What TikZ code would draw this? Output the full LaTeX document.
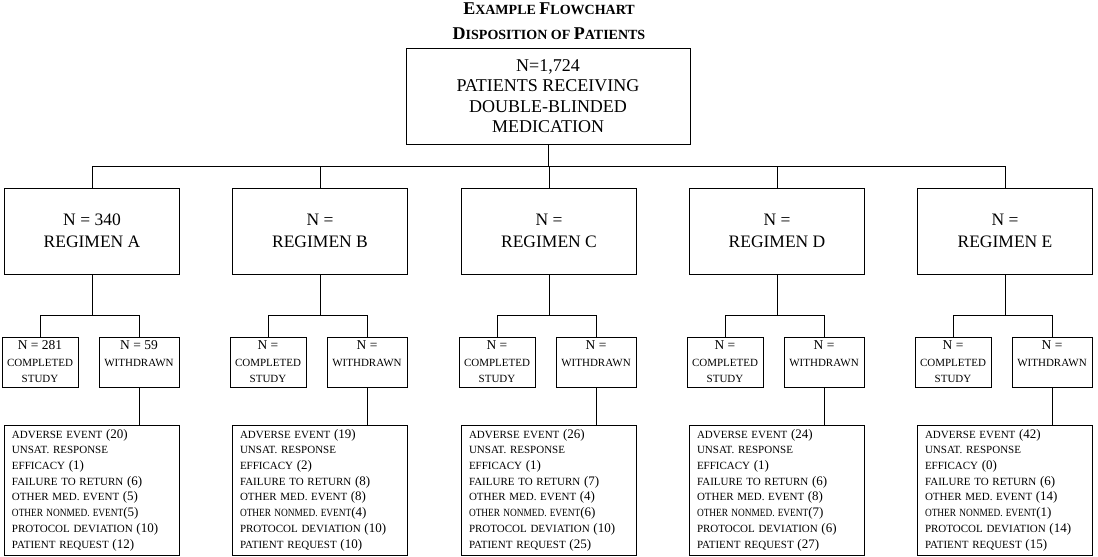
\documentclass[tikz,border=0pt]{standalone}
\usepackage{fontspec}
\setmainfont{Liberation Serif}
\usepackage{graphicx}
\newcommand{\fsz}[2]{\fontsize{#1}{#2}\selectfont}
\newcommand{\bigsc}[1]{{\fsz{18}{18}#1}}
\newcommand{\cntnum}[1]{{\fsz{13}{13}(#1)}}
\newcommand{\narrow}[1]{\scalebox{0.85}[1]{#1}}

\begin{document}
\begin{tikzpicture}[x=1pt,y=-1pt,line width=0.9pt]
    % Box styles
    \tikzset{
        topbox/.style={draw, minimum width=284pt, minimum height=96pt, align=center, font=\fsz{18}{20.5}},
        regbox/.style={draw, minimum width=175pt, minimum height=86pt, align=center, font=\fsz{17.5}{22}},
        subbox/.style={draw, minimum height=50pt, inner sep=0pt, align=center, font=\fsz{11}{16.5}},
        listbox/.style={draw, minimum width=175pt, minimum height=130pt, text width=160pt, align=left, font=\fsz{11}{15.7}}
    }
    \useasboundingbox (0,0) rectangle (1098,557);

    % Title
    \node[font=\bfseries\fsz{14}{14}] (title1) at (549,9) {\bigsc{E}XAMPLE \bigsc{F}LOWCHART};
    \node[font=\bfseries\fsz{14}{14}] (title2) at (549,34) {\bigsc{D}ISPOSITION OF \bigsc{P}ATIENTS};

    % All patients
    \node[topbox] (top) at (548,96) {N=1,724\\PATIENTS RECEIVING\\DOUBLE-BLINDED\\MEDICATION};

    % One column per regimen
    \foreach \reg/\cx/\nreg/\ncomp/\nwd/\nae/\nef/\nfr/\nom/\non/\npd/\npr in
        {A/92/340/281/59/20/1/6/5/5/10/12,
         B/320/{}/{}/{}/19/2/8/8/4/10/10,
         C/549/{}/{}/{}/26/1/7/4/6/10/25,
         D/777/{}/{}/{}/24/1/6/8/7/6/27,
         E/1005/{}/{}/{}/42/0/6/14/1/14/15} {
        \node[regbox] (reg\reg) at (\cx,231) {N = \nreg\\REGIMEN \reg};
        \node[subbox, minimum width=76pt] (comp\reg) at (\cx-52,362)
            {{\fsz{13.5}{16.5}N = \ncomp}\\COMPLETED\\STUDY};
        \node[subbox, minimum width=80pt] (wd\reg) at (\cx+47,362)
            {{\fsz{13.5}{16.5}N = \nwd}\\WITHDRAWN\\\mbox{}};
        \node[listbox] (list\reg) at (\cx,490) {%
            ADVERSE EVENT \cntnum{\nae}\\
            UNSAT. RESPONSE\\
            EFFICACY \cntnum{\nef}\\
            FAILURE TO RETURN \cntnum{\nfr}\\
            OTHER MED. EVENT \cntnum{\nom}\\
            \narrow{OTHER NONMED. EVENT}\cntnum{\non}\\
            PROTOCOL DEVIATION \cntnum{\npd}\\
            PATIENT REQUEST \cntnum{\npr}};

        % Connectors
        \draw (top.south) -- ++(0,22) -| (reg\reg.north);
        \draw (reg\reg.south) -- ++(0,41) -| (comp\reg.north);
        \draw (reg\reg.south) -- ++(0,41) -| (wd\reg.north);
        \draw (wd\reg.south) -- (wd\reg.south |- list\reg.north);
    }
\end{tikzpicture}
\end{document}
